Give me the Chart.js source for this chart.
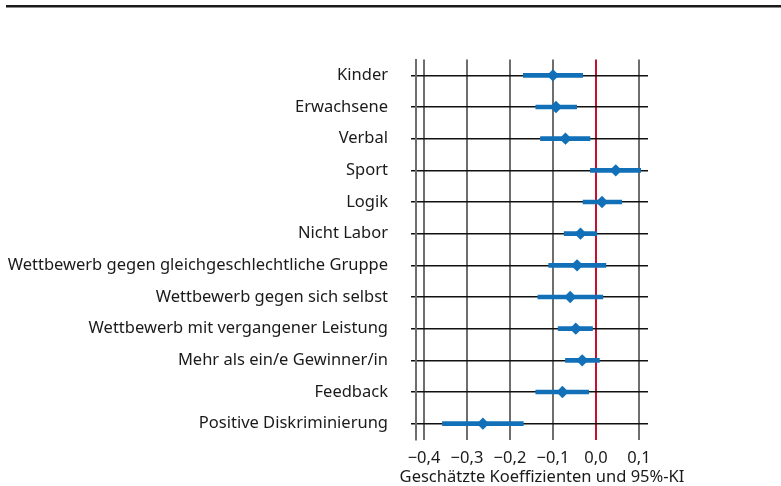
<!DOCTYPE html>
<html><head><meta charset="utf-8">
<script src="https://cdn.jsdelivr.net/npm/chart.js@4"></script>
<style>html,body{margin:0;padding:0;background:#fff}#wrap{width:781px;height:486px;position:relative}</style>
</head><body><div id="wrap"><canvas id="c" width="781" height="486"></canvas></div>
<script>
const categories = ["Kinder","Erwachsene","Verbal","Sport","Logik","Nicht Labor","Wettbewerb gegen gleichgeschlechtliche Gruppe","Wettbewerb gegen sich selbst","Wettbewerb mit vergangener Leistung","Mehr als ein/e Gewinner/in","Feedback","Positive Diskriminierung"];
const estimates = [-0.100,-0.093,-0.071,0.046,0.014,-0.036,-0.044,-0.060,-0.047,-0.032,-0.078,-0.263];
const ciLower   = [-0.169,-0.140,-0.129,-0.013,-0.030,-0.074,-0.110,-0.135,-0.088,-0.071,-0.140,-0.357];
const ciUpper   = [-0.031,-0.045,-0.014,0.104,0.060,0.002,0.023,0.016,-0.008,0.008,-0.017,-0.169];
const xTicks = [-0.4,-0.3,-0.2,-0.1,0.0,0.1];
const xTitle = "Geschätzte Koeffizienten und 95%-KI";

const BLUE = '#1170b8';
const FONT = 'Noto Sans';
const fmt = v => { const s = Math.abs(v).toFixed(1).replace('.', ','); return (v < -1e-9 ? '\u2212' : '') + s; };

const extras = {
  id:'extras',
  afterDraw(chart){
    const c = chart.ctx; c.save();
    c.fillStyle = '#1a1a1a'; c.fillRect(6, 5, 775, 2.5);
    const xs = chart.scales.x;
    c.font = '16.5px "' + FONT + '"';
    c.textAlign = 'center'; c.textBaseline = 'middle';
    c.fillText(xTitle, (xs.left + xs.right) / 2 + 10, 477);
    c.restore();
  }
};

new Chart(document.getElementById('c'), {
  type: 'bar',
  data: {
    labels: categories,
    datasets: [
      { type:'line', data: estimates, showLine:false, pointStyle:'rectRot', pointRadius:6.2, pointHoverRadius:6.2,
        backgroundColor: BLUE, borderColor: BLUE, borderWidth:0, order:0 },
      { type:'bar', data: categories.map((_, i) => [ciLower[i], ciUpper[i]]), backgroundColor: BLUE,
        barThickness: 4, borderSkipped:false, order:1 }
    ]
  },
  options: {
    indexAxis: 'y',
    responsive:false, animation:false,
    devicePixelRatio:1,
    layout:{ padding:{ top:59.5, right:133, bottom:0, left:0 } },
    plugins:{ legend:{display:false}, tooltip:{enabled:false} },
    scales:{
      x:{
        type:'linear', min:-0.4186, max:0.121,
        afterBuildTicks: s => { s.ticks = xTicks.map(v => ({value:v})); },
        afterFit: s => { s.height = 46.5; },
        grid:{ drawTicks:false, color: ctx => (ctx.tick && Math.abs(ctx.tick.value) < 1e-9) ? '#c8102e' : '#6e6e6e', lineWidth:2 },
        border:{ display:false },
        ticks:{ callback: v => fmt(v), color:'#1a1a1a', font:{ family:FONT, size:16.5 }, padding:9, maxRotation:0 },
        title:{ display:false }
      },
      y:{
        type:'category',
        offset:true,
        afterFit: s => { s.width = 416; },
        grid:{ offset:false, color:'#111', lineWidth:1.5, tickLength:5, drawTicks:true, tickColor:'#111' },
        border:{ display:true, color:'#6e6e6e', width:2 },
        ticks:{ color:'#1a1a1a', font:{ family:FONT, size:16.5 }, padding:23, autoSkip:false }
      }
    }
  },
  plugins:[extras]
});
</script></body></html>
